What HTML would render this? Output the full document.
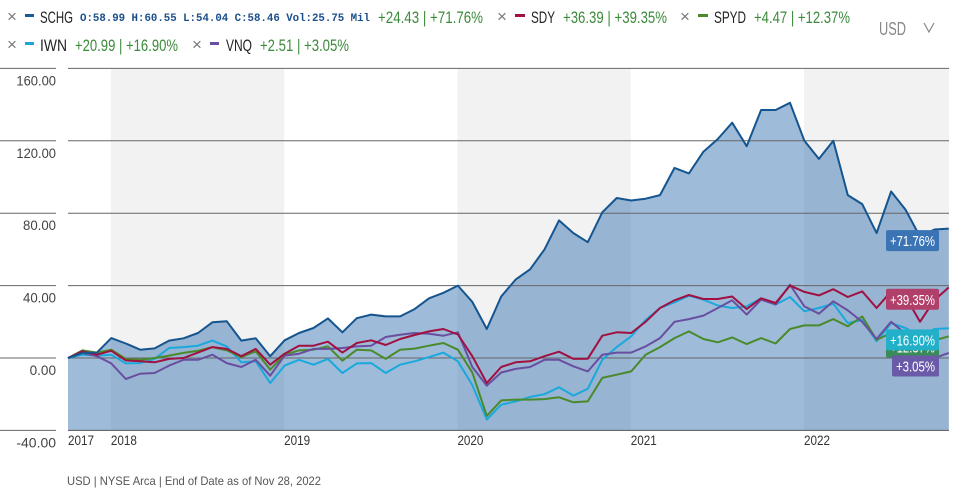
<!DOCTYPE html>
<html><head><meta charset="utf-8"><style>
html,body{margin:0;padding:0;background:#fff;}
svg{display:block;font-family:"Liberation Sans",sans-serif;}
</style></head><body>
<svg id="chart" width="956" height="494" viewBox="0 0 956 494" xmlns="http://www.w3.org/2000/svg">
<g>
  <g>
    <text x="7" y="22" font-size="17" fill="#777">×</text>
    <rect x="25" y="14" width="9" height="3" fill="#1a5a96"/>
    <text x="40" y="23" font-size="17" fill="#222" textLength="33" lengthAdjust="spacingAndGlyphs">SCHG</text>
    <text x="80" y="21" font-size="11" font-weight="bold" fill="#1a4f8a" font-family="Liberation Mono,monospace" textLength="290" lengthAdjust="spacingAndGlyphs">O:58.99 H:60.55 L:54.04 C:58.46 Vol:25.75 Mil</text>
    <text x="378" y="23" font-size="17" fill="#3b8a3b" textLength="105" lengthAdjust="spacingAndGlyphs">+24.43 | +71.76%</text>
  </g>
  <g>
    <text x="497" y="22" font-size="17" fill="#777">×</text>
    <rect x="515" y="14" width="10" height="3" fill="#a01040"/>
    <text x="531" y="23" font-size="17" fill="#222" textLength="24" lengthAdjust="spacingAndGlyphs">SDY</text>
    <text x="563" y="23" font-size="17" fill="#3b8a3b" textLength="104" lengthAdjust="spacingAndGlyphs">+36.39 | +39.35%</text>
  </g>
  <g>
    <text x="680" y="22" font-size="17" fill="#777">×</text>
    <rect x="698" y="14" width="10" height="3" fill="#4a8a2a"/>
    <text x="714" y="23" font-size="17" fill="#222" textLength="32" lengthAdjust="spacingAndGlyphs">SPYD</text>
    <text x="754" y="23" font-size="17" fill="#3b8a3b" textLength="96" lengthAdjust="spacingAndGlyphs">+4.47 | +12.37%</text>
  </g>
  <g>
    <text x="7" y="50" font-size="17" fill="#777">×</text>
    <rect x="25" y="42" width="9" height="3" fill="#1aa8dc"/>
    <text x="40" y="51" font-size="17" fill="#222" textLength="27" lengthAdjust="spacingAndGlyphs">IWN</text>
    <text x="75" y="51" font-size="17" fill="#3b8a3b" textLength="103" lengthAdjust="spacingAndGlyphs">+20.99 | +16.90%</text>
  </g>
  <g>
    <text x="192" y="50" font-size="17" fill="#777">×</text>
    <rect x="210" y="42" width="9" height="3" fill="#6a4ea0"/>
    <text x="226" y="51" font-size="17" fill="#222" textLength="26" lengthAdjust="spacingAndGlyphs">VNQ</text>
    <text x="260" y="51" font-size="17" fill="#3b8a3b" textLength="89" lengthAdjust="spacingAndGlyphs">+2.51 | +3.05%</text>
  </g>
</g>
<g>
  <text x="879" y="35" font-size="18" fill="#888" textLength="27" lengthAdjust="spacingAndGlyphs">USD</text>
  <path d="M924 23 L929 32 L934 23" fill="none" stroke="#888" stroke-width="1.2"/>
</g>
<g id="bands"></g>
<g id="area"></g>
<g id="grid"></g>
<g id="lines"></g>
<g id="yaxis"></g>
<g id="xaxis"></g>
<g id="tags"></g>
<text x="67" y="485" font-size="12" fill="#555" textLength="254" lengthAdjust="spacingAndGlyphs">USD | NYSE Arca | End of Date as of Nov 28, 2022</text>
</svg>
<script>
const yTicks = [160, 120, 80, 40, 0, -40];
const yTickLabels = ["160.00", "120.00", "80.00", "40.00", "0.00", "-40.00"];
const xYears = [2018, 2019, 2020, 2021, 2022];
const xYearLabels = ["2017", "2018", "2019", "2020", "2021", "2022"];
const startMonth = 2017 + 9.03 / 12; // first data point (month offset)
const schg = [0,2.8,3,11,8,4.6,5.3,9.6,10.9,13.8,19.7,20.3,9.6,10.9,1,9.8,13.8,16.6,21.9,14.2,22,24,23,23,27,33,36,40,31,16,34,43.3,49,60,76,69,64,80.5,88.4,87,88,90,105,102,114,121,130,117,137,137,141,120,110,120,90,85,69,92,82,67,71,71.5];
const sdy = [0,3.7,1.8,4,-1.3,-1.8,-2.4,-0.5,0,3,6,5,1,5,-3.7,2.4,6.8,6.8,9,3,8.3,9.8,7.2,10.5,12.7,14.7,16,13,1,-13.8,-5,-2.4,-1.8,1,3.5,-0.5,-0.4,12.3,14.2,13.8,20,27.6,31.9,34.8,32.6,32.6,34,27,33,30.4,40,36.5,34.6,38,33.7,36.8,27.6,36.8,34,20,32,39];
const spyd = [0,4.2,3,4.6,-0.5,-1,0,1.3,2.8,4,6,4.2,0.5,3.7,-6.4,1.8,4.2,4.6,6.4,-1.5,4.6,4.2,-0.5,4.6,5.2,6.8,8.3,4.6,-8,-32,-23.4,-23,-23,-22.7,-21.7,-24.5,-24,-11,-9.2,-7.4,1.8,6,11,14.7,10.5,8.7,11.4,7.7,11,8,16,18,18,21.5,17.5,23,10,13.8,11,8.3,9.8,12];
const iwn = [0,1.8,1.3,1.8,-3,-2.8,-0.5,5.5,6,6.8,9.6,6.4,-2.4,-1.8,-13.8,-4.2,-1,-3.7,-0.5,-8.3,-3,-2.8,-8.3,-3.7,-1.8,0.5,3,-1.8,-15,-34,-25.8,-24,-21.5,-20,-16.2,-20.8,-17,-1,6,12,21,27.6,30.8,34.4,32.2,29,27.6,28.5,33,29.5,33.7,25.8,27.6,30,19.3,21,9.2,19.3,16.6,12,16,16.4];
const vnq = [0,2.8,1,-3,-11.6,-8.7,-8.3,-4.2,-1,-1,1.8,-2.8,-5,-1,-9.8,1.3,2.4,5,5,5.5,6.4,6.8,11.6,12.9,13.8,13.4,12.3,14.2,-5,-15.3,-8,-6,-5,-1,-1,-4.6,-7.4,1.8,3,3,6.4,11,20,21.5,23.4,27.6,31.9,24,32.2,29.5,40.5,28.5,24.5,31.3,26.3,20,10.5,20,13.4,4.6,0,2.8];
const tagLabels = ["+71.76%", "+39.35%", "+12.37%", "+16.90%", "+3.05%"];
const tagValues = [71.76, 39.35, 12.37, 16.90, 3.05];

const NS = "http://www.w3.org/2000/svg";
const X0 = 68, X1 = 949, YTOP = 68.4, YBOT = 430.4;
const yMin = -40, yMax = 160;
const monthPx = 14.44;
const y = v => YBOT - (v - yMin) / (yMax - yMin) * (YBOT - YTOP);
const xIdx = i => X0 + i * monthPx;
const xYear = yr => X0 + (yr - startMonth) * 12 * monthPx;
function mk(tag, attrs, parent) {
  const e = document.createElementNS(NS, tag);
  for (const k in attrs) e.setAttribute(k, attrs[k]);
  parent.appendChild(e);
  return e;
}
const bands = document.getElementById('bands');
[[2018, 2019], [2020, 2021], [2022, 2023]].forEach(([a, b]) => {
  const xa = xYear(a), xb = Math.min(xYear(b), X1);
  const r = mk('rect', {x: xa, y: YTOP, width: xb - xa, height: YBOT - YTOP, fill: '#f2f2f2'}, bands);
  
  
});
const pts = arr => arr.map((v, i) => xIdx(i).toFixed(1) + ',' + y(v).toFixed(1));
const area = document.getElementById('area');
const ap = mk('polygon', {points: pts(schg).join(' ') + ' ' + xIdx(schg.length - 1) + ',' + YBOT + ' ' + X0 + ',' + YBOT, fill: 'rgba(40,105,170,0.45)'}, area);


const grid = document.getElementById('grid');
const yaxis = document.getElementById('yaxis');
yTicks.forEach((t, k) => {
  const yy = y(t);
  const g = mk('line', {x1: X0, x2: X1, y1: yy, y2: yy, stroke: t === -40 ? '#555' : '#666', 'stroke-width': 1}, grid);
  
  
  const l = mk('line', {x1: 0, x2: 56, y1: yy, y2: yy, stroke: '#666', 'stroke-width': 1}, yaxis);
  
  
  const tx = mk('text', {x: 56, y: yy + 17, 'text-anchor': 'end', 'font-size': 14, fill: '#444', textLength: yTickLabels[k].length * 6.6, lengthAdjust: 'spacingAndGlyphs'}, yaxis);
  tx.textContent = yTickLabels[k];
  
  
});
const lines = document.getElementById('lines');
[[iwn, '#19a9dc', 'iwn'], [spyd, '#4a8a2a', 'spyd'], [vnq, '#6a4ea0', 'vnq'], [sdy, '#a01040', 'sdy'], [schg, '#15558f', 'schg']].forEach(([arr, c, n]) => {
  const p = mk('polyline', {points: pts(arr).join(' '), fill: 'none', stroke: c, 'stroke-width': 2, 'stroke-linejoin': 'round'}, lines);
  
  
});
const xaxis = document.getElementById('xaxis');
const yearXs = [X0].concat(xYears.map(xYear));
xYearLabels.forEach((lab, k) => {
  const t = mk('text', {x: yearXs[k], y: 445, 'font-size': 14, fill: '#333', textLength: 26, lengthAdjust: 'spacingAndGlyphs'}, xaxis);
  t.textContent = lab;
  
  
});
const tags = document.getElementById('tags');
const tagColors = ['#3a74b4', '#b0406a', '#3a8a5a', '#22b0c8', '#6a5aa8'];
const tagOffsets = [13, 13, 12, 13, 14];
tagValues.forEach((v, k) => {
  const cy = y(v) + tagOffsets[k];
  const w = tagLabels[k].length > 6 ? 53 : 47;
  const r = mk('rect', {x: 939 - w, y: cy - 11, width: w, height: 21, rx: 2, fill: tagColors[k]}, tags);
  
  
  const t = mk('text', {x: 939 - w / 2, y: cy + 5, 'text-anchor': 'middle', 'font-size': 15, fill: '#fff', textLength: w - 8, lengthAdjust: 'spacingAndGlyphs'}, tags);
  t.textContent = tagLabels[k];
  
  
});
</script>
</body></html>
